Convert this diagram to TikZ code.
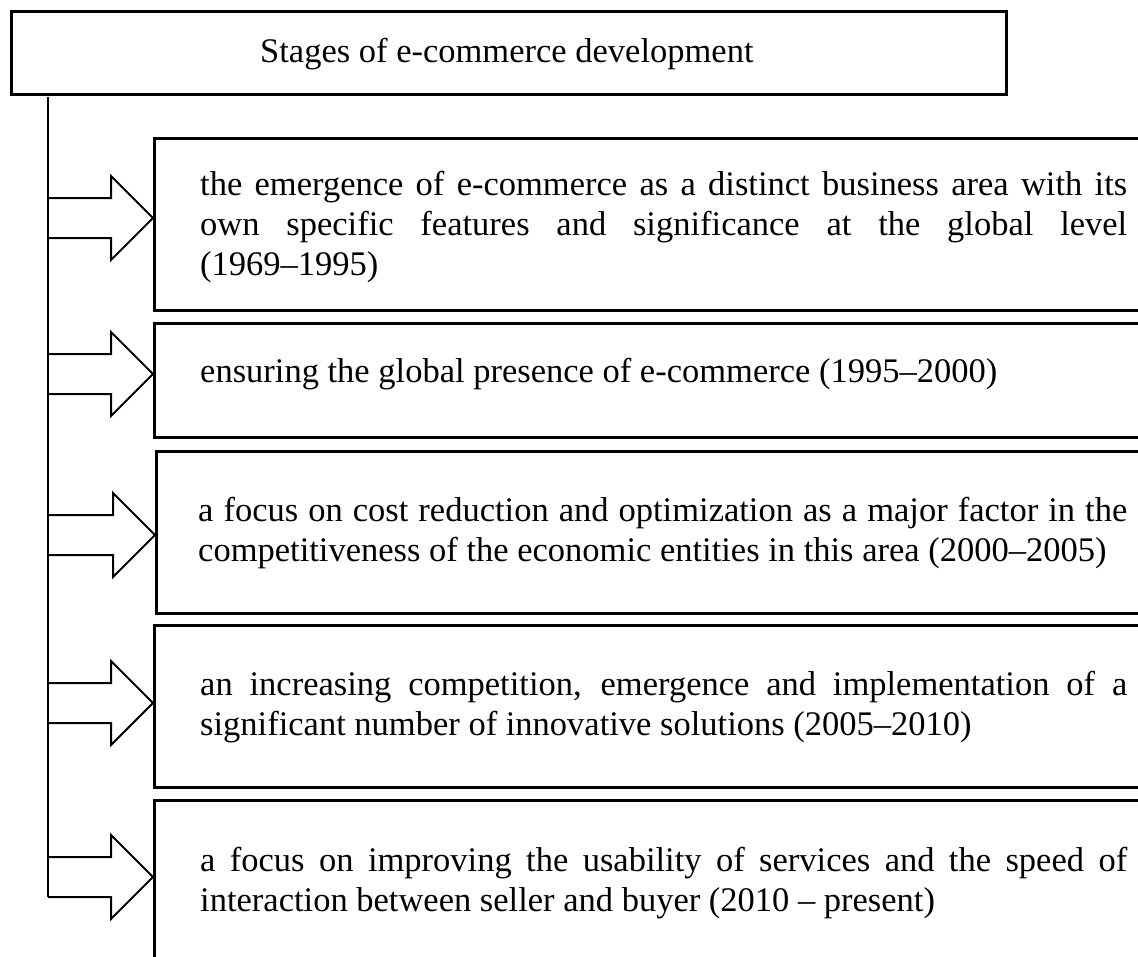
\documentclass[tikz,border=0pt]{standalone}
\usepackage{fontspec}
\setmainfont{Liberation Serif}
\usetikzlibrary{calc}
\tikzset{
  stagebox/.style={draw, line width=3pt, rectangle, minimum width=1000pt, inner sep=0pt, anchor=north west},
  titlebox/.style={draw, line width=3pt, rectangle, inner sep=0pt, anchor=north west, minimum width=995pt, minimum height=83pt},
  stagetext/.style={inner sep=0pt, anchor=base west, font=\fontsize{34.5}{40}\selectfont},
  blockarrow/.style={draw, line width=2pt, line join=miter},
  spine/.style={line width=2pt},
}
\newcommand\jline[1]{\makebox[927pt][s]{#1}}
\newcommand\stagearrow[2]{%
  \draw[blockarrow] ($(#1)+(0,-20)$) -- ($(#2)+(-42,-20)$) -- ($(#2)+(-42,-42)$) -- (#2)
    -- ($(#2)+(-42,42)$) -- ($(#2)+(-42,20)$) -- ($(#1)+(0,20)$);}
\begin{document}
\begin{tikzpicture}[x=1pt,y=-1pt]
\useasboundingbox (0,0) rectangle (1138,956);
\clip (0,0) rectangle (1138,956);
\fill[white] (0,0) rectangle (1138,956);
% title
\node[titlebox] (title) at (10,10) {};
\node[stagetext] (titletext) at (260,62) {Stages of e-commerce development};
% stage boxes
\node[stagebox, minimum height=172pt] (b1) at (153,137) {};
\node[stagebox, minimum height=114pt] (b2) at (153,322) {};
\node[stagebox, minimum height=162pt] (b3) at (155,450) {};
\node[stagebox, minimum height=162pt] (b4) at (153,624) {};
\node[stagebox, minimum height=200pt] (b5) at (153,799) {};
% texts
\node[stagetext] (t1) at (200,195) {\parbox[t]{927pt}{%
  \jline{the emergence of e-commerce as a distinct business area with its}\\
  \jline{own specific features and significance at the global level}\\
  (1969–1995)}};
\node[stagetext] (t2) at (200,382) {ensuring the global presence of e-commerce (1995–2000)};
\node[stagetext] (t3) at (198,521) {\parbox[t]{929pt}{%
  \makebox[929pt][s]{a focus on cost reduction and optimization as a major factor in the}\\
  competitiveness of the economic entities in this area (2000–2005)}};
\node[stagetext] (t4) at (200,695) {\parbox[t]{927pt}{%
  \jline{an increasing competition, emergence and implementation of a}\\
  significant number of innovative solutions (2005–2010)}};
\node[stagetext] (t5) at (200,871) {\parbox[t]{927pt}{%
  \jline{a focus on improving the usability of services and the speed of}\\
  interaction between seller and buyer (2010 – present)}};
% spine
\coordinate (spinetop) at (48,97);
\coordinate (spinebot) at (48,897);
\draw[spine] (spinetop) -- (spinebot);
% arrows
\coordinate (s1) at (48,218);
\coordinate (s2) at (48,374);
\coordinate (s3) at (48,535);
\coordinate (s4) at (48,703);
\coordinate (s5) at (48,877);
\coordinate (p1) at (b1.west |- s1);
\coordinate (p2) at (b2.west |- s2);
\coordinate (p3) at (b3.west |- s3);
\coordinate (p4) at (b4.west |- s4);
\coordinate (p5) at (b5.west |- s5);
\stagearrow{s1}{p1}
\stagearrow{s2}{p2}
\stagearrow{s3}{p3}
\stagearrow{s4}{p4}
\stagearrow{s5}{p5}
\end{tikzpicture}
\end{document}
